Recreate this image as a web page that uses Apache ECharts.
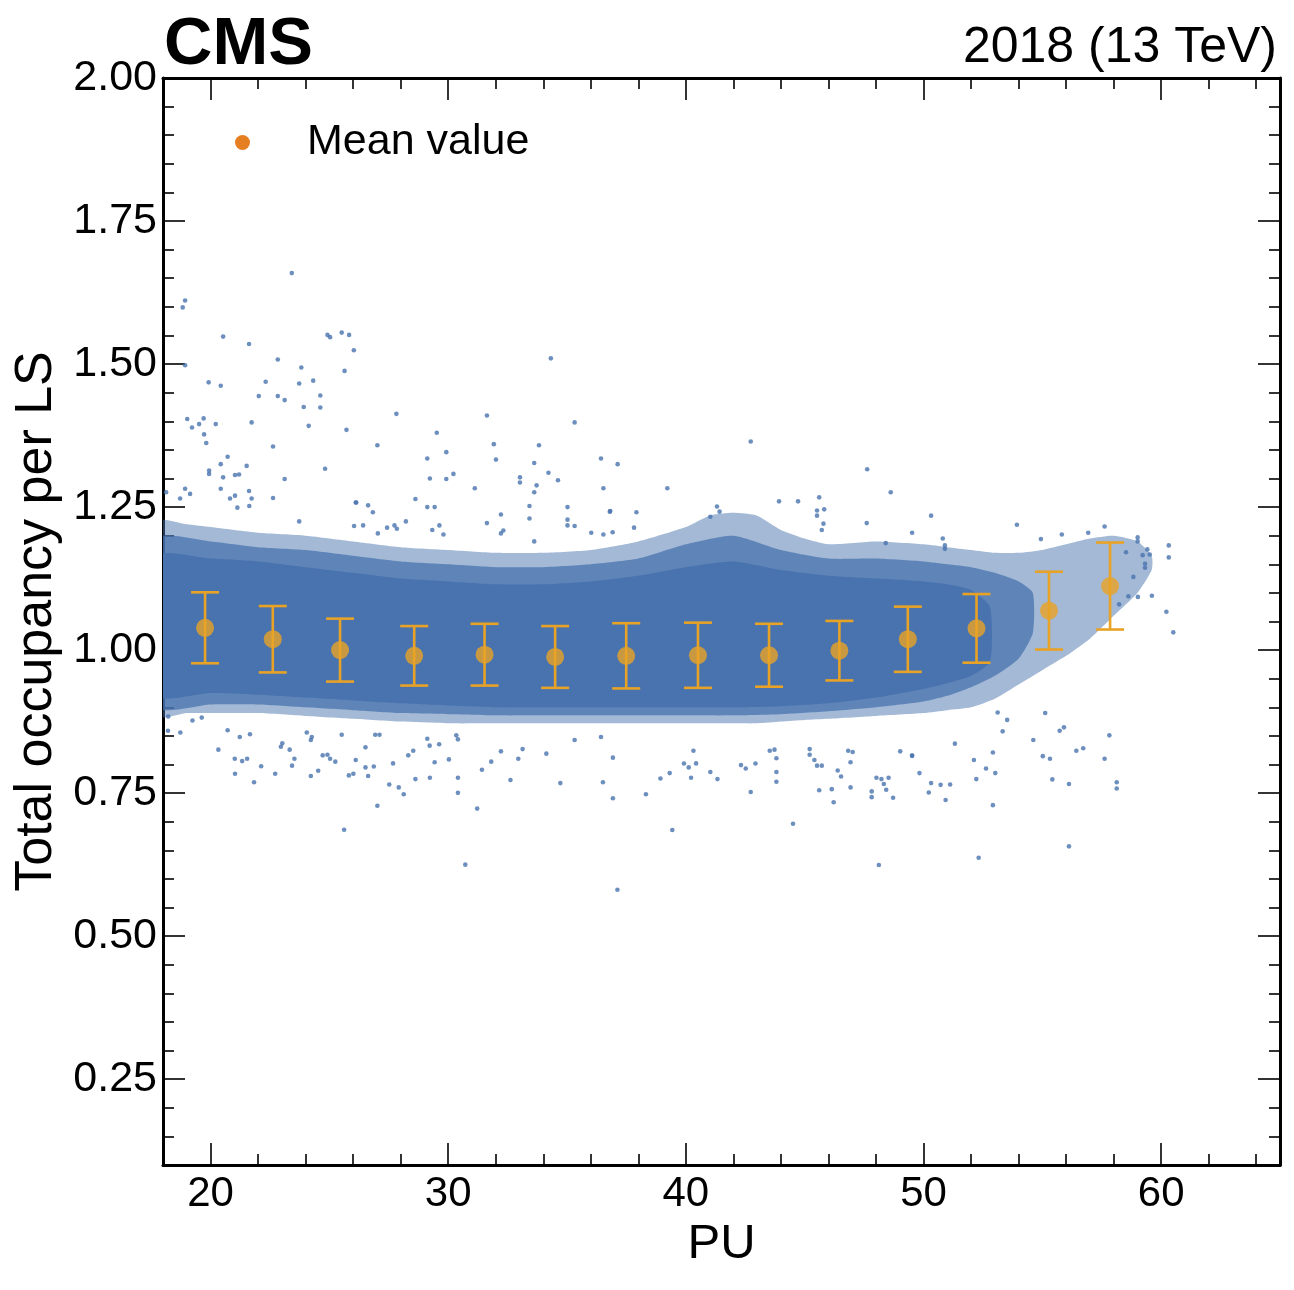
<!DOCTYPE html>
<html>
<head>
<meta charset="utf-8">
<script src="https://cdn.jsdelivr.net/npm/echarts@6/dist/echarts.min.js"></script>
<style>
html,body{margin:0;padding:0;background:#fff;}
#chart{width:1294px;height:1290px;}
</style>
</head>
<body>
<div id="chart"></div>
<script>
// ---------------- data ----------------
// Mean value per PU bin
const meanPU  = [19.77, 22.62, 25.45, 28.57, 31.53, 34.50, 37.49, 40.51, 43.50, 46.46, 49.34, 52.23, 55.28, 57.85];
const meanVal = [1.039, 1.019, 1.000, 0.990, 0.992, 0.988, 0.990, 0.991, 0.991, 0.999, 1.019, 1.038, 1.069, 1.112];
const meanErr = [0.062, 0.058, 0.055, 0.052, 0.054, 0.054, 0.057, 0.057, 0.055, 0.052, 0.057, 0.060, 0.068, 0.076];

// Dense population of lumisections, read as envelopes (PU, upper, lower)
const outerPU  = [17.8, 19, 20, 22, 24, 26, 28, 30, 32, 34, 36, 38, 40, 41, 42, 43, 44, 45, 46, 48, 50, 51, 52, 53, 54, 55, 56, 57, 58, 59, 59.6];
const outerUp  = [1.225, 1.22, 1.215, 1.205, 1.20, 1.19, 1.18, 1.175, 1.17, 1.17, 1.175, 1.19, 1.215, 1.235, 1.24, 1.235, 1.21, 1.195, 1.185, 1.19, 1.185, 1.18, 1.175, 1.17, 1.17, 1.175, 1.185, 1.195, 1.20, 1.19, 1.165];
const outerLow = [0.885, 0.89, 0.89, 0.89, 0.885, 0.88, 0.875, 0.872, 0.872, 0.872, 0.872, 0.872, 0.872, 0.872, 0.872, 0.872, 0.875, 0.878, 0.88, 0.885, 0.89, 0.895, 0.90, 0.915, 0.94, 0.965, 0.99, 1.02, 1.06, 1.10, 1.14];

const midPU  = [17.8, 20, 22, 24, 26, 28, 30, 32, 34, 36, 38, 40, 42, 44, 46, 48, 50, 51, 52, 53, 54, 54.6];
const midUp  = [1.195, 1.19, 1.18, 1.175, 1.165, 1.155, 1.15, 1.145, 1.145, 1.15, 1.16, 1.185, 1.20, 1.175, 1.16, 1.16, 1.155, 1.15, 1.145, 1.135, 1.12, 1.10];
const midLow = [0.90, 0.905, 0.905, 0.90, 0.895, 0.89, 0.888, 0.886, 0.886, 0.886, 0.886, 0.886, 0.886, 0.888, 0.893, 0.90, 0.91, 0.92, 0.935, 0.955, 0.985, 1.03];

const corePU  = [17.8, 20, 22, 24, 26, 28, 30, 32, 34, 36, 38, 40, 42, 44, 46, 48, 50, 51, 52, 52.8];
const coreUp  = [1.165, 1.16, 1.155, 1.145, 1.135, 1.125, 1.12, 1.115, 1.115, 1.12, 1.13, 1.145, 1.155, 1.14, 1.13, 1.125, 1.12, 1.115, 1.105, 1.075];
const coreLow = [0.92, 0.925, 0.922, 0.917, 0.912, 0.907, 0.903, 0.90, 0.90, 0.90, 0.90, 0.90, 0.90, 0.902, 0.907, 0.917, 0.932, 0.942, 0.955, 0.98];

// Individual lumisections outside the dense band [PU, occupancy]
const outliers = [
[23.42,1.659],[18.93,1.611],[18.83,1.599],[20.53,1.548],[21.62,1.535],[24.92,1.551],[25.03,1.547],[25.52,1.555],[25.83,1.551],[26.03,1.524],
[22.83,1.508],[23.82,1.494],[25.64,1.488],[18.93,1.498],[34.32,1.510],[19.92,1.468],[20.43,1.462],[22.32,1.469],[23.73,1.466],[24.32,1.471],
[22.03,1.444],[22.83,1.444],[23.12,1.437],[24.62,1.445],[23.92,1.425],[24.62,1.424],[19.02,1.404],[19.71,1.405],[19.52,1.395],[20.22,1.395],
[19.22,1.389],[19.73,1.377],[19.82,1.362],[21.73,1.398],[24.13,1.392],[25.72,1.385],[27.82,1.413],[31.63,1.410],[35.32,1.398],[29.52,1.380],
[22.63,1.356],[27.02,1.358],[31.92,1.360],[33.82,1.358],[29.92,1.346],[32.01,1.333],[29.12,1.335],[33.62,1.327],[36.43,1.335],[20.72,1.338],
[20.43,1.325],[19.94,1.314],[19.94,1.308],[21.52,1.322],[21.03,1.306],[21.20,1.307],[20.53,1.302],[23.12,1.299],[24.82,1.317],[29.23,1.300],
[29.92,1.299],[30.22,1.308],[34.22,1.310],[34.62,1.297],[33.02,1.302],[33.02,1.293],[31.12,1.283],[36.53,1.283],[33.72,1.288],[33.62,1.276],
[28.62,1.264],[20.43,1.282],[21.62,1.278],[20.82,1.265],[21.03,1.270],[21.73,1.265],[22.63,1.266],[21.13,1.249],[26.13,1.258],[26.63,1.253],
[26.83,1.241],[29.12,1.250],[29.43,1.250],[33.42,1.252],[35.02,1.250],[32.22,1.237],[33.42,1.230],[35.02,1.228],[35.02,1.218],[18.93,1.282],
[19.14,1.273],[18.72,1.265],[18.13,1.276],[36.80,1.242],[23.73,1.225],[28.22,1.225],[31.63,1.222],
[42.73,1.3645],[37.13,1.325],[39.22,1.283],[47.63,1.316],[48.62,1.276],[47.61,1.222],[50.32,1.235],[49.52,1.205],[53.93,1.219],[54.94,1.194],
[36.82,1.243],[37.92,1.241],[37.82,1.214],[36.92,1.206],[36.53,1.202],[45.61,1.267],[45.52,1.244],[45.82,1.246],[45.52,1.235],[45.79,1.221],
[45.72,1.210],[44.72,1.260],[43.92,1.260],[41.31,1.251],[41.42,1.242],[41.03,1.233],[48.41,1.187],[50.81,1.195],[50.90,1.183],[50.90,1.177],
[57.62,1.216],[55.82,1.202],[56.93,1.205],[59.01,1.197],[59.01,1.190],[59.42,1.176],[59.52,1.167],[60.32,1.183],[60.32,1.162],[60.51,1.031],
[60.22,1.067],[59.61,1.095],[59.02,1.093],[58.62,1.094],[59.32,1.151],[59.32,1.144],[59.22,1.166],[58.52,1.171],[58.83,1.128],[58.23,1.080],
[21.63,1.252],[26.11,1.258],[32.32,1.209],[32.22,1.204],[33.62,1.190],[36.02,1.205],[29.80,1.202],[29.63,1.218],[29.33,1.210],[27.84,1.212],
[27.74,1.218],[27.43,1.214],[27.04,1.204],[26.04,1.217],[26.42,1.218],[35.32,1.217],
[39.43,0.6855],[44.51,0.6965],[48.12,0.6245],[52.32,0.637],[42.73,0.752],[38.32,0.748],[36.93,0.741],[36.51,0.769],[36.93,0.812],[38.93,0.7755],
[39.32,0.785],[39.92,0.8017],[40.12,0.795],[40.22,0.777],[40.32,0.824],[40.43,0.802],[41.03,0.787],[41.33,0.7745],[42.32,0.799],[42.52,0.793],
[42.93,0.8017],[43.53,0.824],[43.73,0.826],[43.81,0.811],[43.81,0.787],[43.81,0.770],[45.21,0.827],[45.21,0.817],[45.41,0.808],[45.52,0.798],
[45.72,0.798],[45.61,0.755],[46.14,0.757],[46.22,0.734],[46.39,0.7895],[46.53,0.779],[46.83,0.824],[47.02,0.822],[46.93,0.804],[46.93,0.760],
[47.82,0.753],[47.82,0.743],[48.02,0.777],[48.23,0.7745],[48.53,0.777],[48.33,0.766],[48.43,0.756],[48.72,0.742],[49.02,0.823],[49.52,0.816],
[49.83,0.785],[50.22,0.751],[50.32,0.7675],[50.72,0.7645],[51.12,0.765],[50.93,0.738],[51.32,0.8365],[52.12,0.808],[52.22,0.7745],[52.63,0.793],
[53.02,0.785],[52.92,0.729],[52.92,0.821],[54.62,0.843],[55.02,0.8146],[55.12,0.890],
[56.12,0.657],[57.82,0.851],[57.62,0.810],[58.13,0.769],[58.13,0.758],[56.72,0.8285],[56.43,0.824],[55.91,0.865],[55.73,0.859],[55.32,0.810],
[55.42,0.774],[56.12,0.766],[53.52,0.878],[53.33,0.858],[53.12,0.891],[49.52,0.815],
[25.62,0.686],[27.02,0.728],[28.13,0.748],[27.92,0.760],[27.52,0.765],[31.22,0.723],[30.41,0.7505],[30.41,0.777],[34.72,0.7675],[32.62,0.773],
[28.62,0.7745],[29.23,0.777],[29.43,0.804],[29.62,0.8355],[30.03,0.809],[27.68,0.802],[26.52,0.830],[26.87,0.7965],[26.52,0.795],[26.63,0.780],
[26.01,0.784],[25.82,0.781],[26.11,0.808],[24.53,0.789],[24.22,0.780],[25.25,0.805],[25.03,0.810],[24.72,0.816],[24.92,0.817],[23.43,0.798],
[23.53,0.810],[23.33,0.826],[22.96,0.831],[23.02,0.837],[22.72,0.784],[22.13,0.797],[21.83,0.769],[21.03,0.784],[21.02,0.810],[21.33,0.806],
[21.54,0.810],[20.33,0.826],[21.23,0.848],[21.66,0.853],[20.72,0.860],[19.24,0.877],[19.63,0.882],[18.73,0.856],[18.21,0.859],[18.22,0.884],
[24.26,0.848],[24.22,0.843],[24.05,0.856],[25.52,0.852],[27.11,0.852],[26.93,0.852],[28.32,0.816],[28.53,0.824],[29.12,0.845],[29.22,0.833],
[30.34,0.851],[30.41,0.844],[31.81,0.805],[32.22,0.823],[31.42,0.791],[32.95,0.810],[33.13,0.827],[34.13,0.819],[35.32,0.843],[36.43,0.848],
[37.12,0.581],[30.72,0.625]
];

// Axis ticks
const xMajor = [20, 30, 40, 50, 60];
const xMinor = [22, 24, 26, 28, 32, 34, 36, 38, 42, 44, 46, 48, 52, 54, 56, 58, 62, 64];
const yMajor = [0.25, 0.50, 0.75, 1.00, 1.25, 1.50, 1.75, 2.00];
const yMinor = [0.15, 0.20, 0.30, 0.35, 0.40, 0.45, 0.55, 0.60, 0.65, 0.70, 0.80, 0.85, 0.90, 0.95,
                1.05, 1.10, 1.15, 1.20, 1.30, 1.35, 1.40, 1.45, 1.55, 1.60, 1.65, 1.70, 1.80, 1.85, 1.90, 1.95];

// ---------------- styling ----------------
const FONT = '"Liberation Sans", Arial, Helvetica, sans-serif';
const BLUE = '#4873ae';
const ORANGE = '#e8a326';
const X_MIN = 18, X_MAX = 65, Y_MIN = 0.1, Y_MAX = 2.0;
const gridRect = {left: 163, right: 14, top: 78, bottom: 125};

function bandRender(xs, ups, lows, opacity) {
  return function (params, api) {
    if (params.dataIndex !== 0) return null;
    const pts = [];
    for (let i = 0; i < xs.length; i++) pts.push(api.coord([xs[i], ups[i]]));
    for (let i = xs.length - 1; i >= 0; i--) pts.push(api.coord([xs[i], lows[i]]));
    return {type: 'polygon', shape: {points: pts, smooth: 0.2}, style: {fill: BLUE, opacity: opacity}};
  };
}
function bandSeries(name, xs, ups, lows, opacity, z) {
  return {
    type: 'custom', name: name, xAxisIndex: 0, yAxisIndex: 0, z: z, silent: true, clip: true,
    renderItem: bandRender(xs, ups, lows, opacity),
    encode: {x: 0, y: [1, 2]},
    data: xs.map((x, i) => [x, lows[i], ups[i]])
  };
}

function xAxisDef(gridIndex, position, major) {
  const isMain = major && position === 'bottom';
  return {
    type: 'value', gridIndex: gridIndex, position: position, min: X_MIN, max: X_MAX,
    axisLine: {show: major, onZero: false, lineStyle: {color: '#000', width: 3}},
    axisTick: {show: true, inside: true, length: major ? 22 : 11,
      customValues: major ? xMajor : xMinor, lineStyle: {color: '#000', width: 1.6}},
    axisLabel: {show: isMain, customValues: xMajor, fontSize: 42, color: '#000', fontFamily: FONT, margin: 8},
    splitLine: {show: false},
    name: isMain ? 'PU' : '', nameLocation: 'middle', nameGap: 52,
    nameTextStyle: {fontSize: 49, color: '#000', fontFamily: FONT}
  };
}
function yAxisDef(gridIndex, position, major) {
  const isMain = major && position === 'left';
  return {
    type: 'value', gridIndex: gridIndex, position: position, min: Y_MIN, max: Y_MAX,
    axisLine: {show: major, onZero: false, lineStyle: {color: '#000', width: 3}},
    axisTick: {show: true, inside: true, length: major ? 22 : 11,
      customValues: major ? yMajor : yMinor, lineStyle: {color: '#000', width: 1.6}},
    axisLabel: {show: isMain, customValues: yMajor, fontSize: 43, color: '#000', fontFamily: FONT, margin: 6,
      formatter: v => v.toFixed(2)},
    splitLine: {show: false},
    name: isMain ? 'Total occupancy per LS' : '', nameLocation: 'middle', nameGap: 100,
    nameTextStyle: {fontSize: 52, color: '#000', fontFamily: FONT}
  };
}

const chart = echarts.init(document.getElementById('chart'), null, {renderer: 'canvas'});
chart.setOption({
  backgroundColor: '#fff',
  animation: false,
  textStyle: {fontFamily: FONT},
  grid: [Object.assign({}, gridRect), Object.assign({}, gridRect)],
  xAxis: [xAxisDef(0, 'bottom', true), xAxisDef(0, 'top', true), xAxisDef(1, 'bottom', false), xAxisDef(1, 'top', false)],
  yAxis: [yAxisDef(0, 'left', true), yAxisDef(0, 'right', true), yAxisDef(1, 'left', false), yAxisDef(1, 'right', false)],
  legend: {
    show: true, left: 230, top: 116, icon: 'circle', itemWidth: 15, itemHeight: 15,
    data: [{name: 'Mean value', itemStyle: {color: '#e67e22'}}],
    textStyle: {fontSize: 43, color: '#000', fontFamily: FONT, padding: [0, 0, 0, 52]},
    selectedMode: false
  },
  graphic: [
    {type: 'text', left: 164, top: 12, style: {text: 'CMS', font: 'bold 67px ' + FONT, fill: '#000'}},
    {type: 'text', right: 17, top: 23, style: {text: '2018 (13 TeV)', font: '50px ' + FONT, fill: '#000'}}
  ],
  series: [
    bandSeries('outer', outerPU, outerUp, outerLow, 0.5, 1),
    bandSeries('mid', midPU, midUp, midLow, 0.75, 2),
    bandSeries('core', corePU, coreUp, coreLow, 1, 3),
    {
      type: 'scatter', name: 'LS', xAxisIndex: 0, yAxisIndex: 0, z: 4, silent: true,
      symbol: 'circle', symbolSize: 4.6, itemStyle: {color: BLUE},
      data: outliers
    },
    {
      type: 'custom', name: 'Mean value', xAxisIndex: 0, yAxisIndex: 0, z: 5, silent: true,
      encode: {x: 0, y: 1},
      data: meanPU.map((x, i) => [x, meanVal[i], meanErr[i]]),
      renderItem: function (params, api) {
        const x = api.value(0), y = api.value(1), e = api.value(2);
        const top = api.coord([x, y + e]);
        const bot = api.coord([x, y - e]);
        const hw = 14;
        const st = {stroke: ORANGE, lineWidth: 2.6};
        return {type: 'group', children: [
          {type: 'line', shape: {x1: top[0], y1: top[1], x2: bot[0], y2: bot[1]}, style: st},
          {type: 'line', shape: {x1: top[0] - hw, y1: top[1], x2: top[0] + hw, y2: top[1]}, style: st},
          {type: 'line', shape: {x1: bot[0] - hw, y1: bot[1], x2: bot[0] + hw, y2: bot[1]}, style: st}
        ]};
      }
    },
    {
      type: 'scatter', name: 'Mean value', xAxisIndex: 0, yAxisIndex: 0, z: 6, silent: true,
      symbol: 'circle', symbolSize: 18, itemStyle: {color: ORANGE},
      data: meanPU.map((x, i) => [x, meanVal[i]])
    }
  ]
});
</script>
</body>
</html>
